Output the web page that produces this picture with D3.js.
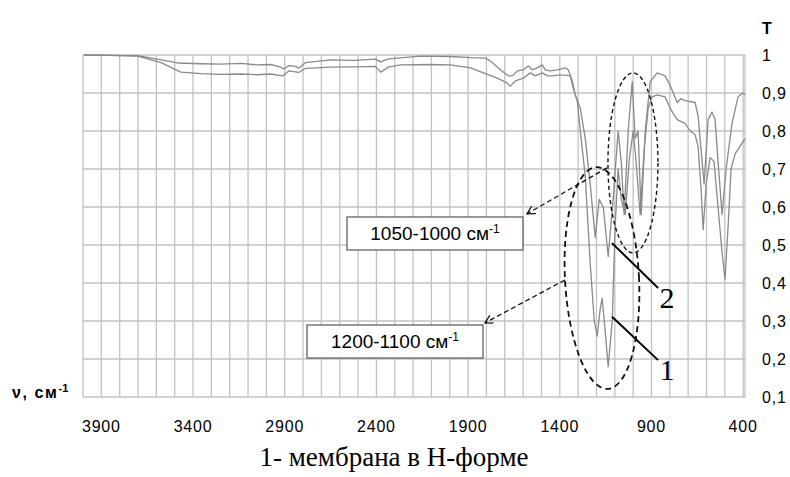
<!DOCTYPE html>
<html>
<head>
<meta charset="utf-8">
<script src="https://cdn.jsdelivr.net/npm/d3@7"></script>
<style>
  body { margin: 0; background: #fff; }
  text { font-family: "Liberation Sans", Arial, sans-serif; }
</style>
</head>
<body>
<div id="chart"></div>
<script>
// IR spectrum: wavenumber (cm-1) and transmittance T
const spectrum1 = [
  [3995, 1.0], [3848, 0.999], [3701, 0.997], [3575, 0.98], [3466, 0.955], [3358, 0.951],
  [3250, 0.949], [3140, 0.950], [3050, 0.948], [2976, 0.950], [2911, 0.945], [2878, 0.958],
  [2824, 0.954], [2786, 0.965], [2650, 0.968], [2520, 0.969], [2405, 0.970], [2377, 0.955],
  [2334, 0.968], [2269, 0.974], [2100, 0.975], [1996, 0.974], [1887, 0.966], [1817, 0.953],
  [1740, 0.939], [1686, 0.926], [1670, 0.918], [1642, 0.932], [1599, 0.939], [1561, 0.953],
  [1533, 0.945], [1495, 0.953], [1468, 0.945], [1441, 0.945], [1408, 0.947], [1370, 0.947],
  [1343, 0.945], [1327, 0.913], [1305, 0.88], [1288, 0.80], [1261, 0.68], [1234, 0.45],
  [1212, 0.30], [1196, 0.26], [1180, 0.33], [1169, 0.36], [1150, 0.26], [1136, 0.18],
  [1114, 0.30], [1098, 0.55], [1082, 0.70], [1065, 0.62], [1043, 0.58], [1022, 0.72],
  [1000, 0.80], [984, 0.72], [962, 0.58], [940, 0.75], [918, 0.86], [896, 0.89],
  [869, 0.895], [826, 0.89], [798, 0.86], [780, 0.845], [760, 0.83], [717, 0.82],
  [689, 0.80], [662, 0.79], [646, 0.76], [630, 0.65], [618, 0.54], [602, 0.66],
  [580, 0.73], [559, 0.72], [537, 0.60], [515, 0.48], [499, 0.41], [482, 0.55],
  [466, 0.70], [444, 0.74], [417, 0.76], [390, 0.78]
];

const spectrum2 = [
  [3995, 1.0], [3848, 0.999], [3701, 0.998], [3603, 0.99], [3483, 0.979], [3358, 0.977],
  [3250, 0.976], [3140, 0.978], [3050, 0.974], [2976, 0.975], [2922, 0.968], [2906, 0.963],
  [2878, 0.972], [2840, 0.970], [2824, 0.965], [2786, 0.980], [2650, 0.987], [2520, 0.986],
  [2405, 0.989], [2377, 0.982], [2334, 0.990], [2160, 0.997], [2000, 0.996], [1887, 0.993],
  [1806, 0.992], [1778, 0.984], [1724, 0.961], [1680, 0.945], [1659, 0.945], [1631, 0.958],
  [1599, 0.961], [1572, 0.971], [1550, 0.961], [1523, 0.966], [1495, 0.974], [1479, 0.961],
  [1452, 0.958], [1414, 0.961], [1370, 0.966], [1354, 0.961], [1332, 0.932], [1316, 0.895],
  [1288, 0.86], [1261, 0.78], [1234, 0.66], [1207, 0.52], [1185, 0.62], [1163, 0.60],
  [1136, 0.47], [1109, 0.62], [1082, 0.80], [1065, 0.72], [1049, 0.58], [1027, 0.80],
  [1005, 0.93], [989, 0.78], [973, 0.80], [956, 0.58], [934, 0.80], [907, 0.93],
  [869, 0.953], [826, 0.945], [798, 0.92], [760, 0.875], [740, 0.885], [717, 0.88],
  [662, 0.875], [646, 0.84], [624, 0.72], [613, 0.66], [591, 0.83], [570, 0.85],
  [553, 0.83], [537, 0.72], [515, 0.58], [493, 0.70], [461, 0.82], [428, 0.89],
  [401, 0.90], [390, 0.895]
];

const xTicks = [3900, 3400, 2900, 2400, 1900, 1400, 900, 400];
const yTicks = [1, 0.9, 0.8, 0.7, 0.6, 0.5, 0.4, 0.3, 0.2, 0.1];
const xGrid = d3.range(4000, 399, -100);

const width = 790;
const height = 477;
const margin = { top: 55, right: 45, bottom: 80, left: 83 };

const svg = d3.select("#chart")
  .append("svg")
  .attr("width", width)
  .attr("height", height);

const x = d3.scaleLinear()
  .domain([4000, 390])
  .range([margin.left, width - margin.right]);

const y = d3.scaleLinear()
  .domain([0.1, 1])
  .range([height - margin.bottom, margin.top]);

// grid
svg.append("g")
  .selectAll("line")
  .data(xGrid.concat([390]))
  .enter()
  .append("line")
  .attr("x1", d => x(d))
  .attr("x2", d => x(d))
  .attr("y1", y(1))
  .attr("y2", y(0.1))
  .attr("stroke", "#c2c2c2")
  .attr("stroke-width", 1.3);

svg.append("g")
  .selectAll("line")
  .data(yTicks)
  .enter()
  .append("line")
  .attr("x1", x(4000))
  .attr("x2", x(390))
  .attr("y1", d => y(d))
  .attr("y2", d => y(d))
  .attr("stroke", "#c2c2c2")
  .attr("stroke-width", 1.3);

// tick labels
svg.append("g")
  .selectAll("text")
  .data(xTicks)
  .enter()
  .append("text")
  .attr("x", d => x(d))
  .attr("y", 432)
  .attr("text-anchor", "middle")
  .style("font-size", "16px")
  .style("letter-spacing", "0.8px")
  .text(d => d);

svg.append("g")
  .selectAll("text")
  .data(yTicks)
  .enter()
  .append("text")
  .attr("x", 762)
  .attr("y", d => y(d) + 6)
  .style("font-size", "16px")
  .style("letter-spacing", "0.8px")
  .text(d => String(d).replace(".", ","));

// spectra
const line = d3.line()
  .x(d => x(d[0]))
  .y(d => y(d[1]));

[spectrum1, spectrum2].forEach(s => {
  svg.append("path")
    .datum(s)
    .attr("d", line)
    .attr("fill", "none")
    .attr("stroke", "#8a8a8a")
    .attr("stroke-width", 1.3)
    .attr("stroke-linejoin", "round");
});

// axis titles
svg.append("text")
  .attr("x", 762)
  .attr("y", 34)
  .style("font-size", "16px")
  .style("font-weight", "bold")
  .text("T");

const nuLabel = svg.append("text")
  .attr("x", 12)
  .attr("y", 398)
  .style("font-size", "16px")
  .style("font-weight", "bold")
  .style("letter-spacing", "1.6px");
nuLabel.append("tspan").text("ν, см");
nuLabel.append("tspan").attr("dy", -6).style("font-size", "11px").style("letter-spacing", "0px").text("-1");

// annotations
const ann = svg.append("g");

ann.append("ellipse")
  .attr("cx", x(1170))
  .attr("cy", y(0.413))
  .attr("rx", 37)
  .attr("ry", 111)
  .attr("transform", `rotate(-3, ${x(1170)}, ${y(0.413)})`)
  .attr("fill", "none")
  .attr("stroke", "#111")
  .attr("stroke-width", 1.8)
  .attr("stroke-dasharray", "6,4");

ann.append("ellipse")
  .attr("cx", x(1001))
  .attr("cy", y(0.716))
  .attr("rx", 25)
  .attr("ry", 90)
  .attr("fill", "none")
  .attr("stroke", "#111")
  .attr("stroke-width", 1.4)
  .attr("stroke-dasharray", "4,3");

svg.append("defs").append("marker")
  .attr("id", "arr")
  .attr("viewBox", "0 0 10 10")
  .attr("refX", 9)
  .attr("refY", 5)
  .attr("markerWidth", 9)
  .attr("markerHeight", 9)
  .attr("markerUnits", "userSpaceOnUse")
  .attr("orient", "auto")
  .append("path")
  .attr("d", "M0,0 L9,5 L0,10")
  .attr("fill", "none")
  .attr("stroke", "#111")
  .attr("stroke-width", 1.4);

const arrows = [
  { from: [1143, 0.703], to: [1579, 0.582] },
  { from: [1372, 0.408], to: [1808, 0.295] }
];
ann.selectAll(".arrow")
  .data(arrows)
  .enter()
  .append("line")
  .attr("x1", d => x(d.from[0]))
  .attr("y1", d => y(d.from[1]))
  .attr("x2", d => x(d.to[0]))
  .attr("y2", d => y(d.to[1]))
  .attr("stroke", "#111")
  .attr("stroke-width", 1.3)
  .attr("stroke-dasharray", "5,3")
  .attr("marker-end", "url(#arr)");

const boxes = [
  { left: 347, top: 217, label: "1050-1000 см" },
  { left: 307, top: 325, label: "1200-1100 см" }
];
boxes.forEach(b => {
  ann.append("rect")
    .attr("x", b.left)
    .attr("y", b.top)
    .attr("width", 176)
    .attr("height", 33)
    .attr("fill", "#fff")
    .attr("stroke", "#555")
    .attr("stroke-width", 1.2);
  const t = ann.append("text")
    .attr("x", b.left + 88)
    .attr("y", b.top + 23)
    .attr("text-anchor", "middle")
    .style("font-size", "19px");
  t.append("tspan").text(b.label);
  t.append("tspan").attr("dy", -7).style("font-size", "12px").text("-1");
});

const pointers = [
  { from: [1115, 0.505], to: [864, 0.387], label: "2" },
  { from: [1115, 0.311], to: [864, 0.197], label: "1" }
];
pointers.forEach(p => {
  ann.append("line")
    .attr("x1", x(p.from[0]))
    .attr("y1", y(p.from[1]))
    .attr("x2", x(p.to[0]))
    .attr("y2", y(p.to[1]))
    .attr("stroke", "#000")
    .attr("stroke-width", 2);
  ann.append("text")
    .attr("x", x(p.to[0]) + 9)
    .attr("y", y(p.to[1]) + 20)
    .attr("text-anchor", "middle")
    .style("font-family", "'Liberation Serif', 'Times New Roman', serif")
    .style("font-size", "30px")
    .text(p.label);
});

svg.append("text")
  .attr("x", 394)
  .attr("y", 466)
  .attr("text-anchor", "middle")
  .style("font-family", "'Liberation Serif', 'Times New Roman', serif")
  .style("font-size", "27px")
  .text("1- мембрана в Н-форме");
</script>
</body>
</html>
